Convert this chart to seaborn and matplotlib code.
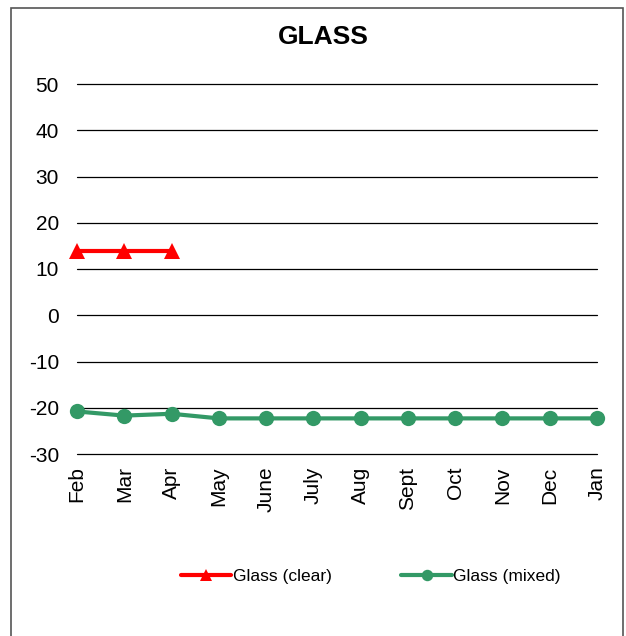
import matplotlib
matplotlib.use("Agg")
import matplotlib.pyplot as plt
import matplotlib.patches as patches
import seaborn as sns

# Dados
months = ["Feb", "Mar", "Apr", "May", "June", "July", "Aug", "Sept", "Oct", "Nov", "Dec", "Jan"]
glass_clear = [14, 14, 14]
glass_mixed = [-20.8, -21.7, -21.3, -22.3, -22.3, -22.3, -22.3, -22.3, -22.3, -22.3, -22.3, -22.3]
y_ticks = [-30, -20, -10, 0, 10, 20, 30, 40, 50]

sns.set_style("white")
plt.rcParams["font.family"] = ["Liberation Sans", "DejaVu Sans"]
plt.rcParams["axes.unicode_minus"] = False
plt.rcParams["text.color"] = "black"
plt.rcParams["xtick.color"] = "black"
plt.rcParams["ytick.color"] = "black"

fig = plt.figure(figsize=(6.26, 6.36), dpi=100)
ax = fig.add_axes([77 / 626, 1 - 454 / 636, 520 / 626, 370 / 636])

# Moldura externa
fig.patches.append(patches.Rectangle((11 / 626, -0.05), 612 / 626, 1 - 8 / 636 + 0.05,
                                     transform=fig.transFigure, fill=False,
                                     edgecolor="#555555", linewidth=1.2))

for yv in y_ticks:
    ax.axhline(yv, color="black", linewidth=0.9, zorder=0, clip_on=False)

sns.lineplot(x=months, y=glass_mixed, ax=ax, color="#339966", linewidth=3,
             marker="o", markersize=11, markeredgewidth=0, sort=False,
             label="Glass (mixed)", clip_on=False)
sns.lineplot(x=months[:3], y=glass_clear, ax=ax, color="#ff0000", linewidth=3,
             marker="^", markersize=12, markeredgewidth=0, sort=False,
             label="Glass (clear)", clip_on=False)

ax.set_xlim(0, len(months) - 1)
ax.set_ylim(-30, 50)
ax.set_yticks(y_ticks)
ax.tick_params(axis="y", labelsize=15, length=0, pad=13)
ax.tick_params(axis="x", labelsize=15, length=0, pad=9, labelrotation=90)
for s in ax.spines.values():
    s.set_visible(False)
ax.set_xlabel("")
ax.set_ylabel("")

fig.text(323 / 626, 1 - 37 / 636, "GLASS", ha="center", va="center",
         fontsize=19, fontweight="bold")

handles, labels = ax.get_legend_handles_labels()
ax.get_legend().remove()
fig.legend(handles[::-1], labels[::-1], loc="center", bbox_to_anchor=(371 / 626, 1 - 576 / 636),
           ncol=2, frameon=False, fontsize=12.5, handlelength=2.9, handletextpad=0.1,
           columnspacing=4.0, markerscale=0.75)

plt.savefig("out.png", dpi=100)
